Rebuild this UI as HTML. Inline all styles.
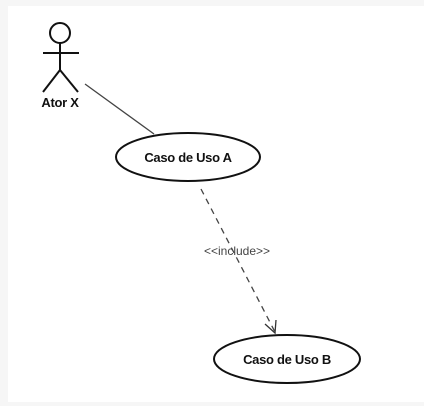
<!DOCTYPE html>
<html><head><style>
html,body{margin:0;padding:0;background:#f6f6f6;}
svg{display:block;}
</style></head><body>
<svg width="424" height="406" xmlns="http://www.w3.org/2000/svg" font-family="Liberation Sans, Arial, sans-serif">
<rect x="8" y="6" width="416" height="396" fill="#fff"/>
<g stroke="#111" stroke-width="2" fill="none">
<circle cx="60" cy="33" r="10"/>
<line x1="60" y1="43" x2="60" y2="70"/>
<line x1="43" y1="53" x2="79" y2="53"/>
<line x1="60" y1="70" x2="43" y2="92"/>
<line x1="60" y1="70" x2="78" y2="92"/>
</g>
<text x="60" y="107" text-anchor="middle" font-size="13" font-weight="bold" fill="#111" letter-spacing="-0.3">Ator X</text>
<line x1="85" y1="84" x2="154" y2="134" stroke="#444" stroke-width="1.3"/>
<ellipse cx="188" cy="157" rx="72" ry="24" fill="#fff" stroke="#111" stroke-width="2"/>
<text x="188" y="162" text-anchor="middle" font-size="13" font-weight="bold" fill="#111" letter-spacing="-0.3">Caso de Uso A</text>
<line x1="201" y1="189" x2="275" y2="332" stroke="#444" stroke-width="1.3" stroke-dasharray="6,5"/>
<polyline points="265,324 275,333 276,320" fill="none" stroke="#333" stroke-width="1.3"/>
<text x="237" y="255" text-anchor="middle" font-size="12" fill="#444">&lt;&lt;include&gt;&gt;</text>
<ellipse cx="287" cy="359" rx="73" ry="24" fill="#fff" stroke="#111" stroke-width="2"/>
<text x="287" y="364" text-anchor="middle" font-size="13" font-weight="bold" fill="#111" letter-spacing="-0.3">Caso de Uso B</text>
</svg>
</body></html>
